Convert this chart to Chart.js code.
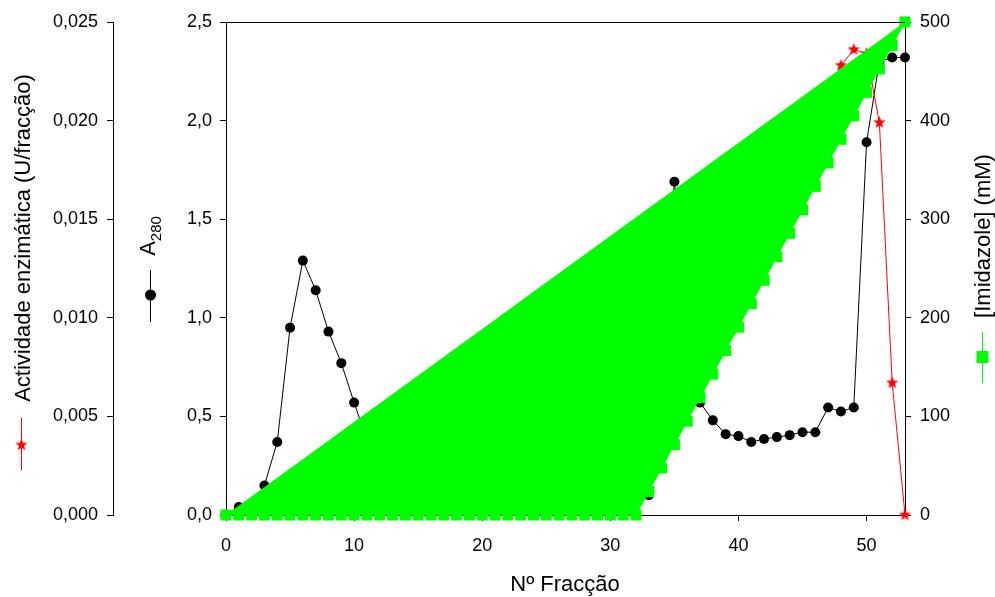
<!DOCTYPE html>
<html>
<head>
<meta charset="utf-8">
<title>Perfil de eluição</title>
<script src="https://cdn.jsdelivr.net/npm/chart.js@4.4.1/dist/chart.umd.min.js"></script>
<style>
  html, body { margin: 0; padding: 0; background: #fff; }
  #wrap { width: 995px; height: 597px; position: relative; }
</style>
</head>
<body>
<div id="wrap"><canvas id="perfil"></canvas></div>
<script>
// fracções recolhidas
const fraccao = [0, 1, 2, 3, 4, 5, 6, 7, 8, 9,
  10, 11, 12, 13, 14, 15, 16, 17, 18, 19,
  20, 21, 22, 23, 24, 25, 26, 27, 28, 29,
  30, 31, 32, 33, 34, 35, 36, 37, 38, 39,
  40, 41, 42, 43, 44, 45, 46, 47, 48, 49,
  50, 51, 52, 53];

// absorvância a 280 nm
const a280 = [0.00, 0.04, 0.04, 0.15, 0.37, 0.95, 1.29, 1.14, 0.93, 0.77,
  0.57, 0.38, 0.25, 0.17, 0.12, 0.10, 0.09, 0.08, 0.08, 0.07,
  0.07, 0.06, 0.06, 0.06, 0.05, 0.05, 0.05, 0.06, 0.06, 0.07,
  0.08, 0.08, 0.09, 0.10, 0.85, 1.69, 1.10, 0.57, 0.48, 0.41,
  0.40, 0.37, 0.385, 0.395, 0.405, 0.42, 0.42, 0.545, 0.525, 0.545,
  1.89, 2.30, 2.32, 2.32];

// gradiente de imidazole (mM)
const imidazole = [0, 0, 0, 0, 0, 0, 0, 0, 0, 0,
  0, 0, 0, 0, 0, 0, 0, 0, 0, 0,
  0, 0, 0, 0, 0, 0, 0, 0, 0, 0,
  0, 0, 0, 23.8, 47.6, 71.4, 95.2, 119.0, 142.9, 166.7,
  190.5, 214.3, 238.1, 261.9, 285.7, 309.5, 333.3, 357.1, 381.0, 404.8,
  428.6, 452.4, 476.2, 500];

// actividade enzimática (U/fracção), só nas fracções ensaiadas
const fraccaoEnsaio = [0, 33, 48, 49, 50, 51, 52, 53];
const actividade = [0, 0.0013, 0.0228, 0.0236, 0.0234, 0.0199, 0.0067, 0];

const FONT = '"Liberation Sans", Arial, Helvetica, sans-serif';
const VERMELHO = '#ff0000';
const VERDE = '#00ff00';

function estrela(r, cor) {
  const c = document.createElement('canvas');
  const s = Math.ceil(r * 2 + 2);
  c.width = c.height = s;
  const g = c.getContext('2d');
  g.fillStyle = cor;
  g.beginPath();
  for (let i = 0; i < 10; i++) {
    const rr = i % 2 ? r * 0.42 : r;
    const a = -Math.PI / 2 + i * Math.PI / 5;
    g.lineTo(s / 2 + rr * Math.cos(a), s / 2 + rr * Math.sin(a));
  }
  g.closePath();
  g.fill();
  return c;
}
const estrelaVermelha = estrela(6.5, VERMELHO);

const pontos = (xs, ys) => xs.map((x, i) => ({ x: x, y: ys[i] }));

const eixo = (extra) => Object.assign({
  grid: { drawOnChartArea: false, drawTicks: true, tickLength: 6, color: '#000', lineWidth: 1 },
  border: { display: true, color: '#000', width: 1 }
}, extra);

// títulos rodados com o símbolo de cada série
const titulos = {
  id: 'titulos',
  afterDraw(chart) {
    const ctx = chart.ctx;
    const a = chart.chartArea;
    ctx.save();
    ctx.strokeStyle = '#000';
    ctx.lineWidth = 1;
    ctx.beginPath();
    ctx.moveTo(a.left, a.top + 0.5);
    ctx.lineTo(a.right, a.top + 0.5);
    ctx.stroke();

    ctx.fillStyle = '#000';
    ctx.textAlign = 'center';
    ctx.textBaseline = 'middle';
    ctx.font = '22px ' + FONT;
    ctx.fillText('Nº Fracção', 565, 585);

    // actividade
    ctx.save();
    ctx.translate(24, 238);
    ctx.rotate(-Math.PI / 2);
    ctx.fillText('Actividade enzimática (U/fracção)', 0, 0);
    ctx.restore();
    ctx.strokeStyle = VERMELHO;
    ctx.beginPath();
    ctx.moveTo(21.5, 418);
    ctx.lineTo(21.5, 470);
    ctx.stroke();
    ctx.drawImage(estrelaVermelha, 21.5 - estrelaVermelha.width / 2, 445 - estrelaVermelha.height / 2);

    // A280
    ctx.save();
    ctx.translate(155, 236);
    ctx.rotate(-Math.PI / 2);
    ctx.textAlign = 'left';
    ctx.textBaseline = 'alphabetic';
    ctx.font = '22px ' + FONT;
    const wA = ctx.measureText('A').width;
    ctx.font = '15px ' + FONT;
    const wS = ctx.measureText('280').width;
    const x0 = -(wA + wS) / 2;
    ctx.font = '22px ' + FONT;
    ctx.fillText('A', x0, 0);
    ctx.font = '15px ' + FONT;
    ctx.fillText('280', x0 + wA, 6);
    ctx.restore();
    ctx.strokeStyle = '#000';
    ctx.beginPath();
    ctx.moveTo(150.5, 270);
    ctx.lineTo(150.5, 322);
    ctx.stroke();
    ctx.beginPath();
    ctx.arc(150.5, 295, 5.5, 0, Math.PI * 2);
    ctx.fill();

    // imidazole
    ctx.save();
    ctx.translate(984, 236);
    ctx.rotate(-Math.PI / 2);
    ctx.font = '22px ' + FONT;
    ctx.fillText('[Imidazole] (mM)', 0, 0);
    ctx.restore();
    ctx.strokeStyle = VERDE;
    ctx.fillStyle = VERDE;
    ctx.beginPath();
    ctx.moveTo(982.5, 332);
    ctx.lineTo(982.5, 383);
    ctx.stroke();
    ctx.fillRect(976.5, 351, 12, 12);
    ctx.restore();
  }
};

new Chart(document.getElementById('perfil'), {
  type: 'line',
  data: {
    datasets: [
      {
        label: '[Imidazole] (mM)',
        data: pontos(fraccao, imidazole),
        yAxisID: 'yImid',
        order: 0,
        borderColor: VERDE,
        backgroundColor: VERDE,
        borderWidth: 1,
        fill: 'shape',
        pointStyle: 'rect',
        pointRadius: 7.8,
        pointBorderWidth: 0,
        pointBackgroundColor: VERDE,
        clip: false
      },
      {
        label: 'Actividade enzimática',
        data: pontos(fraccaoEnsaio, actividade),
        yAxisID: 'yAct',
        order: 1,
        borderColor: VERMELHO,
        borderWidth: 1,
        pointStyle: estrelaVermelha,
        pointRadius: 6,
        clip: false
      },
      {
        label: 'A280',
        data: pontos(fraccao, a280),
        yAxisID: 'yAbs',
        order: 2,
        borderColor: '#000',
        borderWidth: 1,
        pointRadius: 5,
        pointBorderWidth: 0,
        pointBackgroundColor: '#000',
        clip: false
      }
    ]
  },
  options: {
    responsive: true,
    maintainAspectRatio: false,
    animation: false,
    layout: { padding: { top: 22, left: 0, right: 0, bottom: 0 } },
    plugins: { legend: { display: false }, tooltip: { enabled: false } },
    scales: {
      x: eixo({
        type: 'linear',
        position: 'bottom',
        min: 0,
        max: 53,
        afterFit: (s) => { s.height = 82; },
        ticks: {
          stepSize: 10,
          includeBounds: false,
          padding: 14,
          color: '#000',
          font: { family: FONT, size: 18 },
          maxRotation: 0
        }
      }),
      yAbs: eixo({
        type: 'linear',
        position: 'left',
        weight: 1,
        min: 0,
        max: 2.5,
        afterFit: (s) => { s.width = 113; },
        ticks: {
          stepSize: 0.5,
          padding: 8,
          color: '#000',
          font: { family: FONT, size: 18 },
          callback: (v) => v.toFixed(1).replace('.', ',')
        }
      }),
      yAct: eixo({
        type: 'linear',
        position: 'left',
        weight: 2,
        min: 0,
        max: 0.025,
        afterFit: (s) => { s.width = 113; },
        ticks: {
          stepSize: 0.005,
          padding: 9,
          color: '#000',
          font: { family: FONT, size: 18 },
          callback: (v) => v.toFixed(3).replace('.', ',')
        }
      }),
      yImid: eixo({
        type: 'linear',
        position: 'right',
        min: 0,
        max: 500,
        afterFit: (s) => { s.width = 90; },
        ticks: {
          stepSize: 100,
          padding: 9,
          color: '#000',
          font: { family: FONT, size: 18 },
          callback: (v) => String(v)
        }
      })
    }
  },
  plugins: [titulos]
});
</script>
</body>
</html>
